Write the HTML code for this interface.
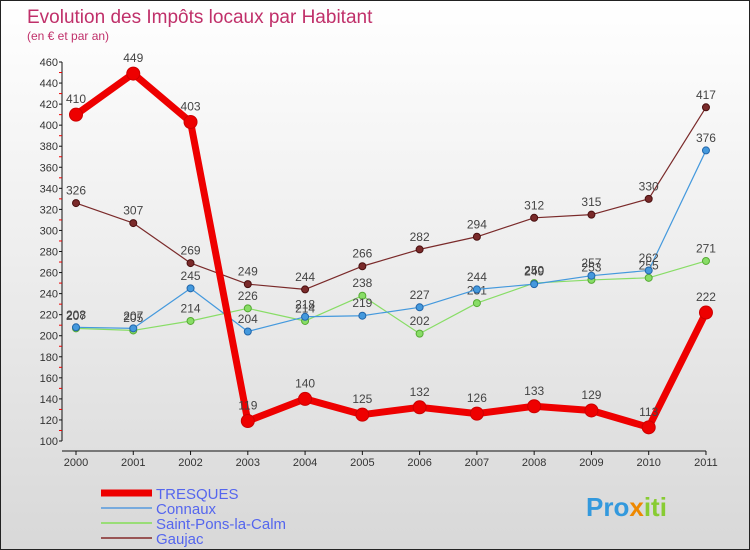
<!DOCTYPE html>
<html><head><meta charset="utf-8"><style>
body{margin:0}
#c{width:748px;height:548px;border:1px solid #222;background:linear-gradient(#fff,#f0f0f0 40%,#d8d8d8);position:relative;overflow:hidden;font-family:"Liberation Sans",sans-serif}
</style></head><body>
<div id="c">
<svg id="s" width="748" height="548">
<text x="26" y="22" font-size="19" fill="#c0306a">Evolution des Impôts locaux par Habitant</text>
<text x="26" y="39" font-size="12" fill="#c0306a">(en € et par an)</text>
</svg>
</div>
<script>
const years=["2000","2001","2002","2003","2004","2005","2006","2007","2008","2009","2010","2011"];
const yTicks=[100,120,140,160,180,200,220,240,260,280,300,320,340,360,380,400,420,440,460];
const tresques=[410,449,403,119,140,125,132,126,133,129,113,222];
const connaux=[208,207,245,204,218,219,227,244,249,257,262,376];
const stpons=[207,205,214,226,214,238,202,231,250,253,255,271];
const gaujac=[326,307,269,249,244,266,282,294,312,315,330,417];
const NS="http://www.w3.org/2000/svg",s=document.getElementById('s');
const X=i=>75+i*57.27, Y=v=>440-(v-100)*(379/360);
function el(t,a,p){const e=document.createElementNS(NS,t);for(const k in a)e.setAttribute(k,a[k]);(p||s).appendChild(e);return e;}
const ax=el('g',{});


el('line',{x1:61,y1:Y(460),x2:61,y2:440,stroke:'#111','stroke-width':1},ax);
el('line',{x1:61,y1:450,x2:705,y2:450,stroke:'#111','stroke-width':1},ax);
yTicks.forEach(v=>{el('line',{x1:58,x2:61,y1:Y(v),y2:Y(v),stroke:'#111'},ax);
if(v<460)el('line',{x1:58,x2:61,y1:Y(v+10),y2:Y(v+10),stroke:'#e00'},ax);
const t=el('text',{x:57,y:Y(v)+4,'text-anchor':'end','font-size':11,fill:'#333'},ax);t.textContent=v;

});
years.forEach((y,i)=>{el('line',{x1:X(i),x2:X(i),y1:450,y2:454,stroke:'#111'},ax);
const t=el('text',{x:X(i),y:465,'text-anchor':'middle','font-size':11,fill:'#333'},ax);t.textContent=y;

});
function series(d,col,w,r,name,dark){
const g=el('g',{});


el('polyline',{points:d.map((v,i)=>X(i)+','+Y(v)).join(' '),fill:'none',stroke:col,'stroke-width':w,'stroke-linejoin':'round'},g);
d.forEach((v,i)=>{const c=el('circle',{cx:X(i),cy:Y(v),r:r,fill:col,stroke:dark,'stroke-width':1},g);


const t=el('text',{x:X(i),y:Y(v)-r-5,'text-anchor':'middle','font-size':12,fill:'#444'},g);t.textContent=v;

});}
series(gaujac,'#7a2a2a',1.2,3.5,'gaujac','#4a1010');
series(stpons,'#88dd66',1.2,3.5,'saint-pons','#55aa33');
series(connaux,'#4499dd',1.2,3.5,'connaux','#2266aa');
series(tresques,'#ee0000',7,6.5,'tresques','#cc0000');
const L=[['TRESQUES','#ee0000',7],['Connaux','#77aadd',2],['Saint-Pons-la-Calm','#99dd77',2],['Gaujac','#995555',2]];
L.forEach((l,i)=>{const g=el('g',{});


const y=492+i*15;el('line',{x1:100,x2:151,y1:y,y2:y,stroke:l[1],'stroke-width':l[2]},g);
const t=el('text',{x:155,y:y+6,'font-size':15,fill:'#5566ee'},g);t.textContent=l[0];});
const lg=el('text',{x:585,y:515,'font-size':26,'font-weight':'bold',fill:'#3399dd'});


lg.innerHTML='<tspan fill="#3399dd">Pro</tspan><tspan fill="#ee8800">x</tspan><tspan fill="#88cc33">iti</tspan>';
</script>
</body></html>
